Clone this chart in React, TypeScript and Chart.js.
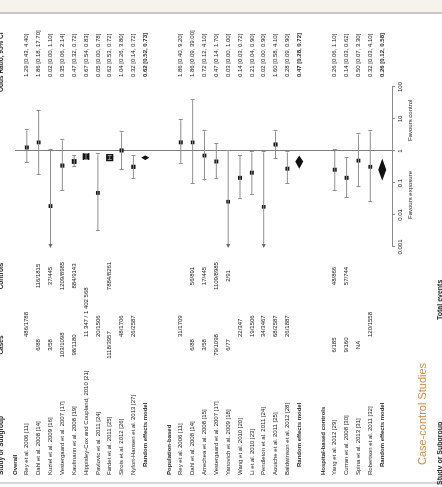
import React, { useEffect, useRef } from "react";
import { Chart, registerables } from "chart.js";

Chart.register(...registerables);

// ---------------- data ----------------
const groupTitles = ["Overall", "Population-based", "Hospital-based controls"];
const pooledLabel = "Random effects model";

const studiesA = [
  "Rey et al. 2006 [11]",
  "Dahl et al. 2008 [14]",
  "Kuziel et al. 2009 [16]",
  "Vestergaard et al. 2007 [17]",
  "Kaufmann et al. 2008 [19]",
  "Hippisley-Cox and Coupland, 2010 [21]",
  "Pavlovic et al. 2011 [24]",
  "Fardet et al. 2011 [25]",
  "Sirois et al. 2012 [26]",
  "Nyfort-Hansen et al. 2013 [27]",
];
const orA = [1.29, 1.86, 0.019, 0.35, 0.47, 0.67, 0.049, 0.62, 1.04, 0.32];
const lowA = [0.43, 0.18, 0.0008, 0.057, 0.32, 0.54, 0.0031, 0.53, 0.26, 0.135];
const highA = [4.4, 17.7, 1.1, 2.14, 0.72, 0.83, 0.78, 0.72, 3.8, 0.72];
const weightA = [4, 3, 3, 5, 10, 24, 3, 27, 5, 6];
const casesA = ["", "6/88", "3/58", "103/1098", "98/1180", "", "", "1118/3957", "", ""];
const controlsA = ["", "116/1815", "37/445", "1209/8985", "884/9143", "", "", "7884/8261", "", ""];
const totalA = ["486/1788", "", "", "", "", "11 347 / 1 402 568", "20/1506", "", "48/1706", "26/2587"];
const pooledA = [0.62, 0.52, 0.73];

const studiesB = [
  "Rey et al. 2006 [11]",
  "Dahl et al. 2008 [14]",
  "Arrechea et al. 2008 [15]",
  "Vestergaard et al. 2007 [17]",
  "Yanovich et al. 2009 [18]",
  "Wang et al. 2010 [20]",
  "Li et al. 2010 [23]",
  "Pendleton et al. 2011 [24]",
  "Aouiche et al. 2011 [25]",
  "Baldwinson et al. 2012 [28]",
];
const orB = [1.86, 1.86, 0.72, 0.47, 0.026, 0.145, 0.21, 0.018, 1.6, 0.28];
const lowB = [0.4, 0.094, 0.12, 0.135, 0.0008, 0.032, 0.043, 0.0008, 0.58, 0.094];
const highB = [9.2, 39.0, 4.1, 1.7, 1.0, 0.72, 0.9, 0.9, 4.1, 0.9];
const weightB = [4, 2, 3, 4, 2, 4, 4, 2, 5, 4];
const casesB = ["", "6/88", "3/58", "79/1098", "6/77", "", "", "", "", ""];
const controlsB = ["", "56/891", "17/445", "1109/8985", "2/91", "", "", "", "", ""];
const totalB = ["31/1709", "", "", "", "", "22/347", "19/1506", "34/3467", "68/2587", "26/1887"];
const pooledB = [0.47, 0.28, 0.72];

const studiesC = [
  "Yang et al. 2012 [29]",
  "Curran et al. 2008 [30]",
  "Spina et al. 2013 [31]",
  "Robertson et al. 2011 [32]",
];
const orC = [0.26, 0.145, 0.5, 0.32];
const lowC = [0.057, 0.034, 0.075, 0.026];
const highC = [1.1, 0.62, 3.3, 4.1];
const weightC = [4, 4, 3, 3];
const casesC = ["6/185", "9/160", "NA", ""];
const controlsC = ["48/866", "57/744", "", ""];
const totalC = ["", "", "", "120/1558"];
const pooledC = [0.26, 0.118, 0.58];

const xTicks = [0.001, 0.01, 0.1, 1, 10, 100];
const favoursLeft = "Favours exposure";
const favoursRight = "Favours control";
const headerLabels = ["Study or Subgroup", "Cases", "Controls", "Odds Ratio, 95% CI"];
const chartTitle = "Case-control Studies";
const footerLabels = ["Study or Subgroup", "Total events"];

// ---------------- layout helpers ----------------
const X_MIN = xTicks[0];
const X_MAX = xTicks[xTicks.length - 1];

function buildGroups() {
  const groups = [
    { title: groupTitles[0], names: studiesA, or: orA, lo: lowA, hi: highA, w: weightA, cases: casesA, controls: controlsA, total: totalA, pooled: pooledA },
    { title: groupTitles[1], names: studiesB, or: orB, lo: lowB, hi: highB, w: weightB, cases: casesB, controls: controlsB, total: totalB, pooled: pooledB },
    { title: groupTitles[2], names: studiesC, or: orC, lo: lowC, hi: highC, w: weightC, cases: casesC, controls: controlsC, total: totalC, pooled: pooledC },
  ];
  let k = 0;
  return groups.map((g) => {
    const header = k;
    const rows = g.names.map((_, i) => k + 1 + i);
    const pooledRow = k + g.names.length + 1;
    k = pooledRow + 2;
    return { ...g, header, rows, pooledRow };
  });
}

const fmt = (v: number) => v.toFixed(2);
const orText = (o: number, l: number, h: number) => `${fmt(o)} [${fmt(l)}, ${fmt(h)}]`;

export default function App() {
  const ref = useRef<HTMLCanvasElement>(null);

  useEffect(() => {
    const canvas = ref.current;
    if (!canvas) return;
    const groups = buildGroups();

    const ciData: any[] = [];
    const ptData: any[] = [];
    const ptRadius: number[] = [];
    groups.forEach((g) => {
      g.rows.forEach((k, i) => {
        ciData.push({ x: Math.max(g.lo[i], X_MIN), y: k });
        ciData.push({ x: Math.min(g.hi[i], X_MAX), y: k });
        ciData.push({ x: null, y: null });
        ptData.push({ x: g.or[i], y: k });
        ptRadius.push(2.4 + 0.1 * g.w[i]);
      });
    });

    const TEXT = "#262626";
    const FONT = '"Liberation Sans", Arial, sans-serif';

    const forestPlugin = {
      id: "forest",
      beforeDraw(chart: any) {
        const { ctx, width, height } = chart;
        ctx.save();
        ctx.fillStyle = "#ffffff";
        ctx.fillRect(0, 0, width, height);
        ctx.fillStyle = "#f5f3ec";
        ctx.fillRect(475, 0, width - 475, height);
        ctx.strokeStyle = "#c9c9c9";
        ctx.lineWidth = 2;
        ctx.beginPath();
        ctx.moveTo(474, 0);
        ctx.lineTo(474, height);
        ctx.stroke();
        ctx.lineWidth = 1.5;
        ctx.beginPath();
        ctx.moveTo(4, 0);
        ctx.lineTo(4, height);
        ctx.stroke();
        ctx.restore();
      },
      beforeDatasetsDraw(chart: any) {
        const { ctx, chartArea, scales } = chart;
        const x1 = Math.round(scales.x.getPixelForValue(1)) + 0.5;
        ctx.save();
        ctx.strokeStyle = "#7d7d7d";
        ctx.lineWidth = 1;
        ctx.beginPath();
        ctx.moveTo(x1, 15);
        ctx.lineTo(x1, chartArea.bottom);
        ctx.stroke();
        ctx.restore();
      },
      afterDatasetsDraw(chart: any) {
        const { ctx, scales, chartArea } = chart;
        const xs = scales.x;
        const ys = scales.y;
        ctx.save();
        ctx.strokeStyle = "#8f8f8f";
        ctx.fillStyle = "#6a6a6a";
        ctx.lineWidth = 1;
        groups.forEach((g) => {
          g.rows.forEach((k, i) => {
            const yp = ys.getPixelForValue(k);
            const lo = g.lo[i];
            const hi = g.hi[i];
            if (lo >= X_MIN) {
              const xp = Math.round(xs.getPixelForValue(lo)) + 0.5;
              ctx.beginPath();
              ctx.moveTo(xp, yp - 2);
              ctx.lineTo(xp, yp + 2);
              ctx.stroke();
            } else {
              const xp = chartArea.left;
              ctx.beginPath();
              ctx.moveTo(xp - 1, yp);
              ctx.lineTo(xp + 3, yp - 2);
              ctx.lineTo(xp + 3, yp + 2);
              ctx.closePath();
              ctx.fill();
            }
            if (hi <= X_MAX) {
              const xp = Math.round(xs.getPixelForValue(hi)) + 0.5;
              ctx.beginPath();
              ctx.moveTo(xp, yp - 2);
              ctx.lineTo(xp, yp + 2);
              ctx.stroke();
            }
          });
          const yp = ys.getPixelForValue(g.pooledRow);
          const [po, pl, ph] = g.pooled;
          ctx.fillStyle = "#111111";
          ctx.beginPath();
          ctx.moveTo(xs.getPixelForValue(pl), yp);
          ctx.lineTo(xs.getPixelForValue(po), yp - 4);
          ctx.lineTo(xs.getPixelForValue(ph), yp);
          ctx.lineTo(xs.getPixelForValue(po), yp + 4);
          ctx.closePath();
          ctx.fill();
          ctx.fillStyle = "#6a6a6a";
        });
        ctx.restore();
      },
      afterDraw(chart: any) {
        const { ctx, scales } = chart;
        const ys = scales.y;
        const xs = scales.x;
        ctx.save();
        ctx.fillStyle = TEXT;
        ctx.textBaseline = "middle";
        const put = (t: string, x: number, y: number, align: CanvasTextAlign, font: string) => {
          if (!t) return;
          ctx.font = font;
          ctx.textAlign = align;
          ctx.fillText(t, x, y);
        };
        const f6 = `6px ${FONT}`;
        const f6b = `bold 6px ${FONT}`;

        put(headerLabels[0], 12, 1, "left", `bold 6.5px ${FONT}`);
        put(headerLabels[1], 142, 1, "center", `bold 6.5px ${FONT}`);
        put(headerLabels[2], 211, 1, "center", `bold 6.5px ${FONT}`);
        put(headerLabels[3], 395, 1, "left", `bold 6.5px ${FONT}`);

        groups.forEach((g) => {
          put(g.title, 12, ys.getPixelForValue(g.header), "left", f6b);
          g.rows.forEach((k, i) => {
            const yp = ys.getPixelForValue(k);
            put(g.names[i], 12, yp, "left", f6);
            put(g.cases[i], 142, yp, "center", f6);
            put(g.total[i], 150, yp, "left", f6);
            put(g.controls[i], 211, yp, "center", f6);
            put(orText(g.or[i], g.lo[i], g.hi[i]), 410, yp, "left", f6);
          });
          const pp = ys.getPixelForValue(g.pooledRow);
          put(pooledLabel, 20, pp, "left", f6b);
          put(orText(g.pooled[0], g.pooled[1], g.pooled[2]), 410, pp, "left", f6b);
        });

        const x1 = xs.getPixelForValue(1);
        put(favoursLeft, x1 - 20, 410, "right", f6);
        put(favoursRight, x1 + 10, 410, "left", f6);

        ctx.fillStyle = "#d48a3e";
        put(chartTitle, 22, 423, "left", `11px ${FONT}`);

        ctx.fillStyle = TEXT;
        put(footerLabels[0], 2, 440, "left", `bold 7px ${FONT}`);
        put(footerLabels[1], 167, 440, "left", `bold 7px ${FONT}`);
        ctx.restore();
      },
    };

    const chart = new Chart(canvas, {
      type: "scatter",
      data: {
        datasets: [
          {
            type: "line",
            data: ciData,
            showLine: true,
            spanGaps: false,
            borderColor: "#8f8f8f",
            borderWidth: 1,
            pointRadius: 0,
            fill: false,
          } as any,
          {
            type: "scatter",
            data: ptData,
            pointStyle: "rect",
            pointRadius: ptRadius,
            backgroundColor: "#141414",
            borderWidth: 0,
          } as any,
        ],
      },
      options: {
        animation: false,
        responsive: false,
        devicePixelRatio: 1,
        layout: { padding: { left: 240, right: 87, top: 0, bottom: 0 } },
        plugins: {
          legend: { display: false },
          tooltip: { enabled: false },
          title: { display: false },
        },
        scales: {
          x: {
            type: "logarithmic",
            min: X_MIN,
            max: X_MAX,
            position: "bottom",
            afterBuildTicks: (s: any) => {
              s.ticks = xTicks.map((v) => ({ value: v }));
            },
            afterFit: (s: any) => {
              s.height = 50;
            },
            ticks: {
              callback: (v: any) => String(v),
              font: { size: 6, family: FONT },
              color: TEXT,
              padding: 2,
              maxRotation: 0,
              minRotation: 0,
              autoSkip: false,
            },
            grid: { drawOnChartArea: false, drawTicks: true, tickLength: 3, color: "#8a8a8a" },
            border: { display: true, color: "#8a8a8a" },
          },
          y: {
            type: "linear",
            reverse: true,
            min: -10 / 12,
            max: 382 / 12,
            display: false,
          },
        },
      } as any,
      plugins: [forestPlugin as any],
    });
    return () => chart.destroy();
  }, []);

  return (
    <div
      style={{
        position: "fixed",
        left: 0,
        top: 0,
        width: 442,
        height: 487,
        overflow: "hidden",
        background: "#ffffff",
      }}
    >
      <div
        style={{
          position: "absolute",
          left: 0,
          top: 0,
          width: 487,
          height: 442,
          transformOrigin: "0 0",
          transform: "translate(0px, 487px) rotate(-90deg)",
        }}
      >
        <canvas ref={ref} width={487} height={442} style={{ display: "block", width: 487, height: 442 }} />
      </div>
    </div>
  );
}
